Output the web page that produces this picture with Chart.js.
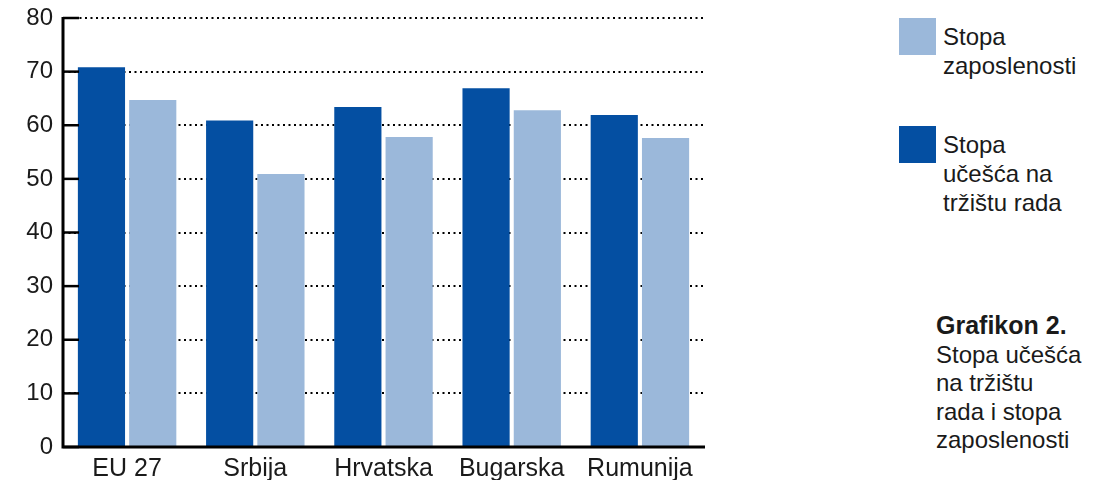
<!DOCTYPE html>
<html>
<head>
<meta charset="utf-8">
<script src="https://cdn.jsdelivr.net/npm/chart.js@4.4.1/dist/chart.umd.min.js"></script>
<style>
  body { margin: 0; background: #fff; font-family: "Liberation Sans", Arial, Helvetica, sans-serif; color: #1a1a1a; }
  #wrap { position: relative; width: 1107px; height: 480px; overflow: hidden; }
  #chartBox { position: absolute; left: 0; top: 0; width: 720px; height: 480px; }
  .leg { position: absolute; left: 899px; }
  .leg .sw { position: absolute; left: 0; top: 0; width: 37px; height: 37px; }
  .leg .tx { position: absolute; left: 44px; top: 4px; font-size: 24px; line-height: 29px; width: 180px; }
  #caption { position: absolute; left: 936px; top: 311px; font-size: 24px; line-height: 28.5px; }
  #caption b { font-weight: bold; font-size: 25px; }
</style>
</head>
<body>
<div id="wrap">
  <div id="chartBox"><canvas id="chart"></canvas></div>
  <div id="legend"></div>
  <div id="caption"><b>Grafikon 2.</b><br>Stopa učešća<br>na tržištu<br>rada i stopa<br>zaposlenosti</div>
</div>
<script>
// ===== data =====
const categories = ['EU 27', 'Srbija', 'Hrvatska', 'Bugarska', 'Rumunija'];
const ucesce = [70.8, 60.9, 63.4, 66.9, 61.9];       // stopa učešća na tržištu rada
const zaposlenost = [64.7, 50.9, 57.8, 62.8, 57.6];  // stopa zaposlenosti
const yTicks = [0, 10, 20, 30, 40, 50, 60, 70, 80];

const darkBlue = '#044fa2';
const lightBlue = '#9bb8da';

Chart.defaults.font.family = '"Liberation Sans", Arial, Helvetica, sans-serif';
Chart.defaults.font.size = 24;
Chart.defaults.color = '#1a1a1a';

// ===== axis lines + inner tick marks =====
const axisPlugin = {
  id: 'axisLines',
  afterDatasetsDraw(chart) {
    const { ctx, chartArea, scales } = chart;
    const y = scales.y;
    ctx.save();
    ctx.strokeStyle = '#000';
    ctx.setLineDash([]);
    ctx.lineWidth = 3;
    ctx.beginPath();
    ctx.moveTo(chartArea.left, chartArea.top - 1);
    ctx.lineTo(chartArea.left, chartArea.bottom);
    ctx.lineTo(chartArea.right + 1, chartArea.bottom);
    ctx.stroke();
    ctx.lineWidth = 2.5;
    yTicks.forEach(v => {
      const py = y.getPixelForValue(v);
      ctx.beginPath();
      ctx.moveTo(chartArea.left, py);
      ctx.lineTo(chartArea.left + 16, py);
      ctx.stroke();
    });
    ctx.restore();
  }
};

const chart = new Chart(document.getElementById('chart'), {
  type: 'bar',
  data: {
    labels: categories,
    datasets: [
      { label: 'Stopa učešća na tržištu rada', data: ucesce, backgroundColor: darkBlue },
      { label: 'Stopa zaposlenosti', data: zaposlenost, backgroundColor: lightBlue }
    ]
  },
  options: {
    responsive: true,
    maintainAspectRatio: false,
    animation: false,
    layout: { padding: { top: 18, right: 16, bottom: 0, left: 0 } },
    categoryPercentage: 0.8,
    barPercentage: 0.92,
    plugins: { legend: { display: false }, tooltip: { enabled: false } },
    scales: {
      x: {
        grid: { display: false, drawTicks: false },
        border: { display: false },
        ticks: { padding: 7, maxRotation: 0, font: { size: 25 } },
        afterFit(s) { s.height = 33; s.paddingLeft = 0; s.paddingRight = 0; }
      },
      y: {
        min: 0, max: 80,
        afterBuildTicks(s) { s.ticks = yTicks.map(v => ({ value: v })); },
        grid: { color: '#000', lineWidth: 2, drawTicks: false },
        border: { display: false, dash: [2, 3.5] },
        ticks: { padding: 10 },
        afterFit(s) { s.width = 63; s.paddingTop = 0; s.paddingBottom = 0; }
      }
    }
  },
  plugins: [axisPlugin]
});

// ===== legend (light first, as in the original) =====
const legend = document.getElementById('legend');
const legendItems = [
  { ds: chart.data.datasets[1], top: 18, text: 'Stopa<br>zaposlenosti' },
  { ds: chart.data.datasets[0], top: 126, text: 'Stopa<br>učešća na<br>tržištu rada' }
];
legendItems.forEach(it => {
  const d = document.createElement('div');
  d.className = 'leg';
  d.style.top = it.top + 'px';
  d.innerHTML = '<div class="sw" style="background:' + it.ds.backgroundColor + '"></div><div class="tx">' + it.text + '</div>';
  legend.appendChild(d);
});
</script>
</body>
</html>
